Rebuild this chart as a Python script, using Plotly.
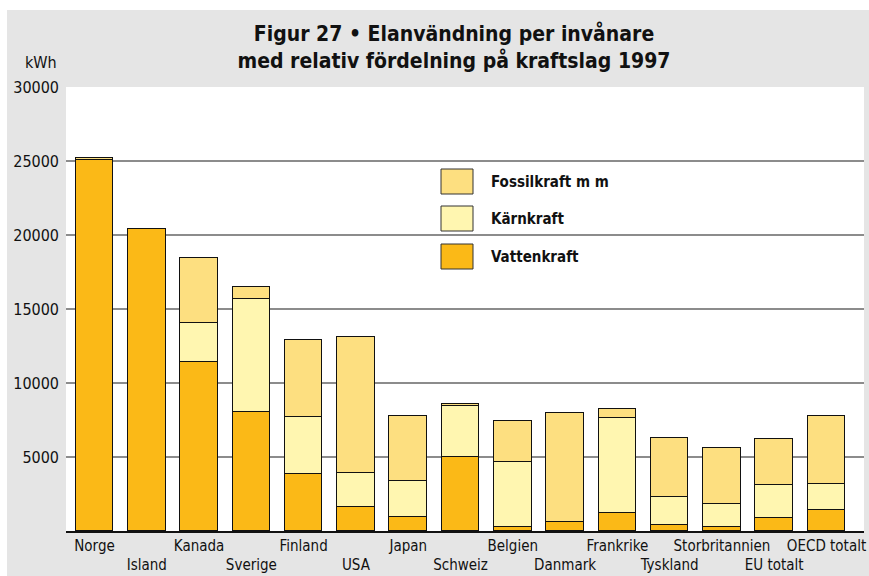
import plotly.graph_objects as go

# Electricity use per inhabitant 1997 (kWh), split by power source
countries = ["Norge", "Island", "Kanada", "Sverige", "Finland", "USA", "Japan",
             "Schweiz", "Belgien", "Danmark", "Frankrike", "Tyskland",
             "Storbritannien", "EU totalt", "OECD totalt"]
vattenkraft = [25050, 20400, 11420, 8040, 3830, 1600, 970, 4980, 250, 640,
               1200, 390, 250, 860, 1400]
karnkraft = [0, 0, 2650, 7660, 3890, 2340, 2390, 3470, 4430, 0,
             6410, 1930, 1550, 2230, 1800]
fossilkraft = [120, 0, 4380, 770, 5180, 9170, 4430, 130, 2750, 7310,
               650, 3960, 3810, 3110, 4570]
y_ticks = [5000, 10000, 15000, 20000, 25000, 30000]

W, H = 869, 576
ML, MR, MT, MB = 66, 5, 87, 45
PW, PH = W - ML - MR, H - MT - MB

C_VATTEN = "#fbb917"
C_KARN = "#fff6b0"
C_FOSSIL = "#fddf80"
GRAY = "#e5e5e5"

FONT = "Liberation Sans Narrow, DejaVu Sans Condensed, Arial Narrow, sans-serif"

x = list(range(len(countries)))
# alternate labels between two rows
ticktext = [c if i % 2 == 0 else "<br>" + c for i, c in enumerate(countries)]

fig = go.Figure()
for name, vals, col in [("Vattenkraft", vattenkraft, C_VATTEN),
                        ("Kärnkraft", karnkraft, C_KARN),
                        ("Fossilkraft m m", fossilkraft, C_FOSSIL)]:
    fig.add_trace(go.Bar(
        x=x, y=vals, name=name, width=0.72,
        marker=dict(color=col, line=dict(color="#111111", width=1)),
        showlegend=False,
    ))


def px_x(px):
    return (px - ML) / PW


def px_y(py):
    return (H - MB - py) / PH


shapes = []
# white margins around the gray frame
shapes.append(dict(type="rect", xref="paper", yref="paper",
                   x0=px_x(0), x1=px_x(W), y0=px_y(10), y1=px_y(0),
                   fillcolor="white", line=dict(width=0), layer="below"))
shapes.append(dict(type="rect", xref="paper", yref="paper",
                   x0=px_x(0), x1=px_x(7), y0=px_y(H), y1=px_y(0),
                   fillcolor="white", line=dict(width=0), layer="below"))
# horizontal grid lines
for v in y_ticks[:-1]:
    shapes.append(dict(type="line", xref="paper", yref="y", x0=0, x1=1,
                       y0=v, y1=v, line=dict(color="#1a1a1a", width=1.2),
                       layer="below"))

# legend drawn as swatches + labels
legend_items = [("Fossilkraft m m", C_FOSSIL, 169, 194),
                ("Kärnkraft", C_KARN, 206, 231),
                ("Vattenkraft", C_VATTEN, 244, 269)]
annotations = []
for label, col, top, bot in legend_items:
    shapes.append(dict(type="rect", xref="paper", yref="paper",
                       x0=px_x(441), x1=px_x(473), y0=px_y(bot), y1=px_y(top),
                       fillcolor=col, line=dict(color="#333333", width=1)))
    annotations.append(dict(xref="paper", yref="paper", x=px_x(489),
                            y=px_y((top + bot) / 2), xanchor="left",
                            yanchor="middle", showarrow=False,
                            text="<b>" + label + "</b>",
                            font=dict(family="DejaVu Sans Condensed, sans-serif",
                                      size=15, color="#111111")))

annotations.append(dict(xref="paper", yref="paper", x=px_x(59), y=px_y(62),
                        xanchor="right", yanchor="middle", showarrow=False,
                        text="kWh", font=dict(family=FONT, size=16,
                                              color="#111111")))

fig.update_layout(
    width=W, height=H,
    margin=dict(l=ML, r=MR, t=MT, b=MB, pad=0),
    paper_bgcolor=GRAY, plot_bgcolor="white",
    barmode="stack", bargap=0,
    title=dict(text="<b>Figur 27 • Elanvändning per invånare<br>"
                    "med relativ fördelning på kraftslag 1997</b>",
               x=454 / W, xanchor="center", xref="container",
               y=1 - 41 / H, yanchor="middle", yref="container",
               font=dict(family="DejaVu Sans Condensed, sans-serif", size=21,
                         color="#111111")),
    xaxis=dict(range=[-0.545, 14.717], tickvals=x, ticktext=ticktext,
               tickangle=0, automargin=False, ticklabeloverflow="allow",
               showgrid=False, zeroline=False, showline=True,
               linecolor="#111111", linewidth=1.5, ticks="",
               tickfont=dict(family=FONT, size=15, color="#111111"),
               fixedrange=True),
    yaxis=dict(range=[0, 30000], tickvals=y_ticks, automargin=False,
               ticktext=[str(v) for v in y_ticks], showgrid=False,
               zeroline=False, showline=False, ticks="", ticklabelstandoff=6,
               tickfont=dict(family=FONT, size=16, color="#111111"),
               fixedrange=True),
    shapes=shapes, annotations=annotations,
)

fig.write_html("out.html")
